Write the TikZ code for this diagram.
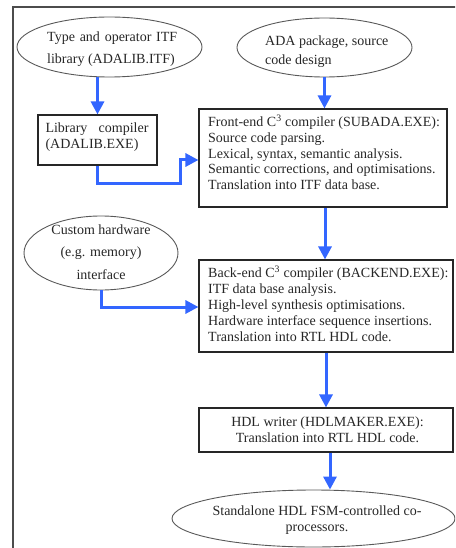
\documentclass[tikz,border=0pt]{standalone}
\usepackage{fontspec}
\setmainfont{Liberation Serif}
\usetikzlibrary{shapes.geometric,arrows.meta}
\definecolor{arrblue}{HTML}{3366FF}
\begin{document}
\begin{tikzpicture}[x=1pt,y=-1pt,
  ell/.style={ellipse,draw=black!65,line width=0.9pt,inner sep=0pt},
  boxn/.style={rectangle,draw=black!85,line width=1.1pt,inner sep=0pt},
  txt/.style={font=\fontsize{14}{15.6}\selectfont,inner sep=0pt,text=black!85},
  arr/.style={draw=arrblue,line width=3pt,-{Triangle[width=13pt,length=13pt]}}]
\useasboundingbox (0,0) rectangle (455,548);
\clip (0,0) rectangle (455,548);
% outer frame
\draw[line width=2pt,draw=black!70] (13,549) -- (13,7) -- (460,7);
% ellipses
\node[ell,minimum width=185pt,minimum height=60pt] (e1) at (109.5,47) {};
\node[txt,font=\fontsize{14}{22}\selectfont,align=left,anchor=west] (e1t) at (47,49) {\hbox to 130pt{Type\hfill and\hfill operator\hfill ITF}\\library (ADALIB.ITF)};
\node[ell,minimum width=175pt,minimum height=59pt] (e2) at (324.5,47.5) {};
\node[txt,font=\fontsize{14}{19}\selectfont,align=left,anchor=west] (e2t) at (265,51.5) {ADA package, source\\code design};
\node[ell,minimum width=154pt,minimum height=74pt] (e3) at (101,253) {};
\node[txt,font=\fontsize{14}{22.5}\selectfont,align=center] (e3t) at (101,252) {Custom hardware\\(e.g. memory)\\interface};
\node[ell,minimum width=283pt,minimum height=57pt] (e4) at (313.5,518.5) {};
\node[txt,align=center] (e4t) at (317,520) {Standalone HDL FSM-controlled co-\\processors.};
% boxes
\node[boxn,minimum width=119pt,minimum height=50pt] (lib) at (97.5,140) {};
\node[txt,align=left,text width=103pt] (libt) at (97,137) {\hbox to 103pt{Library\hfill compiler}\\(ADALIB.EXE)};
\node[boxn,minimum width=248pt,minimum height=98pt] (front) at (323,158) {};
\node[txt,align=left,anchor=north west] (frontt) at (208,115) {Front-end C\textsuperscript{3} compiler (SUBADA.EXE):\\Source code parsing.\\Lexical, syntax, semantic analysis.\\Semantic corrections, and optimisations.\\Translation into ITF data base.};
\node[boxn,minimum width=254pt,minimum height=92pt] (back) at (326,306) {};
\node[txt,align=left,anchor=north west,font=\fontsize{14}{15.8}\selectfont] (backt) at (208,266) {Back-end C\textsuperscript{3} compiler (BACKEND.EXE):\\ITF data base analysis.\\High-level synthesis optimisations.\\Hardware interface sequence insertions.\\Translation into RTL HDL code.};
\node[boxn,minimum width=254pt,minimum height=44pt] (hdl) at (326,430) {};
\node[txt,align=center] (hdlt) at (327.5,430) {HDL writer (HDLMAKER.EXE):\\Translation into RTL HDL code.};
% connectors
\draw[arr] (lib.north |- e1.south) -- (lib.north);
\draw[arr] (e2.south) -- (e2.south |- front.north);
\draw[arr] (lib.south) |- (180,183) |- ([yshift=-2pt]front.west);
\draw[arr] ([xshift=2pt]front.south) -- ([xshift=2pt]front.south |- back.north);
\draw[arr] (e3.south) |- ([yshift=-1pt]back.west);
\draw[arr] (back.south) -- (back.south |- hdl.north);
\draw[arr] ([xshift=4pt]hdl.south) -- ([xshift=4pt]hdl.south |- e4.north);
\end{tikzpicture}
\end{document}
